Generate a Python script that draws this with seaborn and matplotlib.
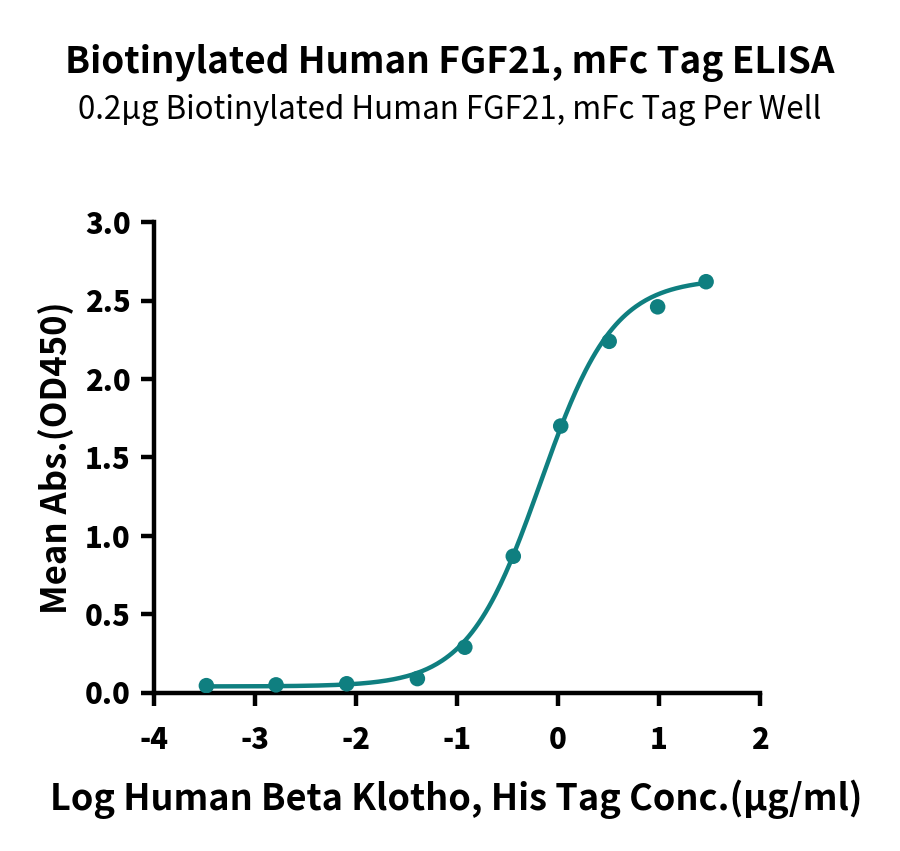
import numpy as np
import pandas as pd
import matplotlib
matplotlib.use('Agg')
import matplotlib.pyplot as plt
from matplotlib import font_manager as fm
import seaborn as sns

# data
log_conc = [-3.48, -2.79, -2.09, -1.39, -0.92, -0.44, 0.03, 0.51, 0.99, 1.47]
od450 = [0.045, 0.05, 0.057, 0.09, 0.29, 0.87, 1.70, 2.24, 2.46, 2.62]
x_ticks = [-4, -3, -2, -1, 0, 1, 2]
y_ticks = [0, 0.5, 1.0, 1.5, 2.0, 2.5, 3.0]

# 4PL fit parameters (estimated from the drawn curve)
bottom = 0.04
top = 2.64
log_ec50 = -0.17
hill = 1.2

teal = '#0f7f80'

sns.set_theme(style='ticks')
plt.rcParams['font.family'] = ['Noto Sans CJK JP', 'DejaVu Sans']
plt.rcParams['text.color'] = 'black'
plt.rcParams['axes.labelcolor'] = 'black'

# heavier face for the tick numbers
black_path = [f.fname for f in fm.fontManager.ttflist if f.fname.endswith('NotoSansCJK-Black.ttc')]
if black_path:
    tick_font = fm.FontProperties(fname=black_path[0], size=21)
else:
    tick_font = fm.FontProperties(family='Noto Sans CJK JP', weight='bold', size=21)

df = pd.DataFrame({'x': log_conc, 'y': od450})
xs = np.linspace(min(log_conc), max(log_conc), 300)
fit = pd.DataFrame({'x': xs, 'y': bottom + (top - bottom) / (1 + 10 ** (hill * (log_ec50 - xs)))})

fig = plt.figure(figsize=(9, 8.51), dpi=100)
ax = fig.add_axes([0.171, 0.186, 0.673, 0.553])

sns.lineplot(data=fit, x='x', y='y', ax=ax, color=teal, linewidth=3.2)
sns.scatterplot(data=df, x='x', y='y', ax=ax, color=teal, s=125, edgecolor='none', zorder=3)

ax.set_xlim(-4, 2)
ax.set_ylim(0, 3)
ax.set_xticks(x_ticks)
ax.set_yticks(y_ticks)
ax.set_xticklabels([str(t) for t in x_ticks], fontproperties=tick_font)
ax.set_yticklabels([f'{t:.1f}' for t in y_ticks], fontproperties=tick_font)
for s in ['top', 'right']:
    ax.spines[s].set_visible(False)
for s in ['left', 'bottom']:
    ax.spines[s].set_linewidth(3.2)
    ax.spines[s].set_color('black')
ax.tick_params(width=3.2, length=9.5, colors='black')
ax.tick_params(axis='x', pad=14)
ax.tick_params(axis='y', pad=7)

ax.set_xlabel('Log Human Beta Klotho, His Tag Conc.(µg/ml)', fontsize=26, fontweight='bold', labelpad=18)
ax.set_ylabel('Mean Abs.(OD450)', fontsize=25, fontweight='bold', labelpad=8)

fig.text(0.5, 0.926, 'Biotinylated Human FGF21, mFc Tag ELISA', ha='center', va='center',
         fontsize=26.5, fontweight='bold')
fig.text(0.5, 0.871, '0.2µg Biotinylated Human FGF21, mFc Tag Per Well', ha='center', va='center',
         fontsize=22.5)

fig.savefig('out.png', dpi=100)
